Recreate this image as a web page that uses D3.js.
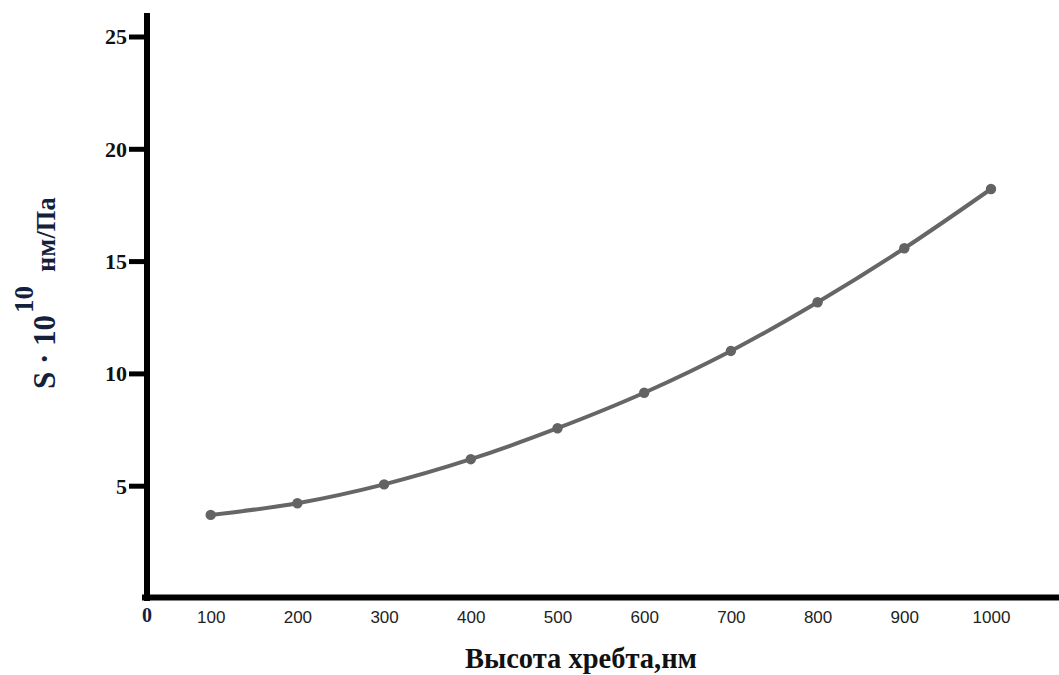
<!DOCTYPE html>
<html><head><meta charset="utf-8">
<script src="https://cdn.jsdelivr.net/npm/d3@7/dist/d3.min.js"></script>
<style>html,body{margin:0;padding:0;background:#fff;}svg{display:block;}</style>
</head><body>
<script>
const heights = [100, 200, 300, 400, 500, 600, 700, 800, 900, 1000];
const sValues = [3.70, 4.22, 5.06, 6.18, 7.56, 9.14, 11.0, 13.17, 15.57, 18.21];
const yTicks = [5, 10, 15, 20, 25];
const xTickLabels = ["100","200","300","400","500","600","700","800","900","1000"];

const W = 1059, H = 675;
const svg = d3.select("body").append("svg").attr("width", W).attr("height", H);

const x = d3.scaleLinear().domain([0, 1000]).range([124, 991]);
const y = d3.scaleLinear().domain([0, 25]).range([598, 36.5]);
const axisX = 147;
const serif = "'Liberation Serif','Times New Roman',serif";

// y axis
const yAxis = d3.axisLeft(y).tickValues(yTicks).tickSize(18).tickPadding(2).tickFormat(d3.format("d"));
const gy = svg.append("g").attr("transform", `translate(${axisX},0)`).call(yAxis);
gy.select(".domain").remove();
gy.selectAll(".tick line").attr("stroke", "#000").attr("stroke-width", 5);
gy.selectAll(".tick text").attr("font-family", serif).attr("font-weight", "bold")
  .attr("font-size", 22).attr("fill", "#111").attr("dy", "0.34em");
svg.append("line").attr("x1", axisX).attr("x2", axisX).attr("y1", 13).attr("y2", 601)
  .attr("stroke", "#000").attr("stroke-width", 6);

// x axis
svg.append("line").attr("x1", 142).attr("x2", W).attr("y1", 597.5).attr("y2", 597.5)
  .attr("stroke", "#000").attr("stroke-width", 6);
const gx = svg.append("g").attr("transform", "translate(0,597)")
  .call(d3.axisBottom(x).tickValues(heights).tickSize(0).tickPadding(14).tickFormat((d, i) => xTickLabels[i]));
gx.select(".domain").remove();
gx.selectAll(".tick text").attr("font-family", "'Liberation Sans',Arial,sans-serif")
  .attr("font-size", 17).attr("fill", "#222");
svg.append("text").attr("x", axisX).attr("y", 622).attr("text-anchor", "middle")
  .attr("font-family", serif).attr("font-weight", "bold").attr("font-size", 20)
  .attr("fill", "#14213d").text("0");

// axis titles
svg.append("text").attr("x", 581).attr("y", 668).attr("text-anchor", "middle")
  .attr("font-family", serif).attr("font-weight", "bold").attr("font-size", 28.5)
  .attr("fill", "#111").text("Высота хребта,нм");

const yt = svg.append("text").attr("transform", "translate(55,389) rotate(-90)")
  .attr("font-family", serif).attr("font-weight", "bold").attr("fill", "#14213d");
yt.append("tspan").attr("font-size", 31).text("S · 10");
yt.append("tspan").attr("font-size", 27).attr("dy", -22).attr("dx", 2).text("10");
yt.append("tspan").attr("font-size", 26.5).attr("dy", 22).attr("dx", 14).text("нм/Па");

// line and points
const line = d3.line().x((d, i) => x(heights[i])).y(d => y(d)).curve(d3.curveMonotoneX);
svg.append("path").datum(sValues).attr("d", line).attr("fill", "none")
  .attr("stroke", "#666").attr("stroke-width", 4).attr("stroke-linejoin", "round");
svg.selectAll("circle.pt").data(sValues).enter().append("circle").attr("class", "pt")
  .attr("cx", (d, i) => x(heights[i])).attr("cy", d => y(d)).attr("r", 5.2).attr("fill", "#636363");
</script>
</body></html>
